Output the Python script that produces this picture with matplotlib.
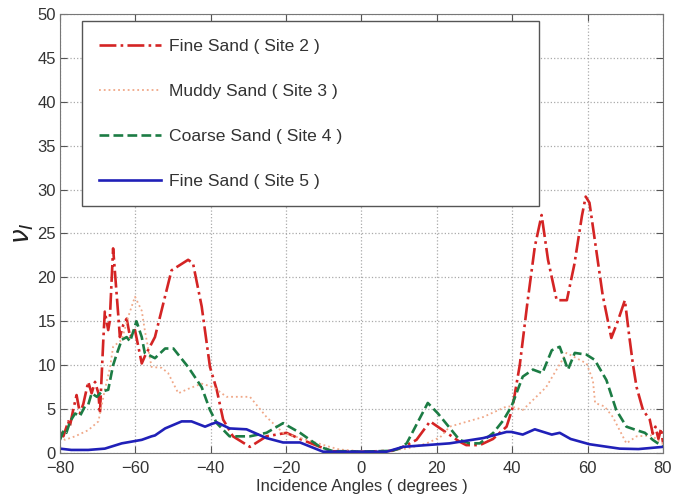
import matplotlib
matplotlib.use("Agg")
from matplotlib import pyplot as plt

plt.rcParams['font.family'] = ['Liberation Sans', 'DejaVu Sans']

# Fine Sand (Site 2)
site2_x = [-80, -79.1, -77.8, -77.4, -76.5, -75.6, -74.7, -73.8, -72.5, -71.6,
           -70.7, -69.8, -69.4, -68.5, -68.1, -67.2, -66.8, -65.9, -64.5, -64.1,
           -63.2, -62.3, -61.4, -60.1, -58.3, -57.5, -54.8, -50.4, -46, -44.7,
           -42.4, -40.2, -38.4, -36.7, -34.1, -29.6, -25.2, -19.9, -16.3, -11,
           -7.5, -4, 0, 4, 8, 10, 12, 14.6, 18.2, 20.9, 26, 27.8, 31.4, 34.9,
           38.5, 40, 42, 44, 46, 47.8, 49.5, 51.8, 54.5, 56.5, 58.5, 59.5, 60.5,
           62, 64, 66.3, 68, 69.9, 71, 72, 73, 74.7, 76.5, 77.3, 78, 78.8, 79.5, 80]
site2_y = [2.4, 1.9, 3.6, 3.0, 4.9, 6.6, 4.5, 5.6, 8.1, 6.8,
           8.1, 6.8, 4.5, 12.9, 16.1, 14.0, 15.0, 23.3, 15.5, 13.2,
           14.6, 15.3, 13.2, 14.0, 10.2, 11.0, 13.2, 20.8, 22.0, 21.6,
           16.7, 9.8, 7.2, 3.8, 1.9, 0.7, 1.9, 2.3, 1.6, 0.7,
           0.2, 0.2, 0.15, 0.2, 0.25, 0.5, 0.9, 1.5, 3.6, 2.8, 1.3, 0.9, 0.9, 1.6,
           3.0, 5.0, 10.0, 17.0, 23.5, 27.1, 22.0, 17.4, 17.4, 21.5, 27.0, 29.2, 28.5,
           24.0, 18.0, 13.1, 15.0, 17.4, 13.5, 10.2, 7.5, 4.9, 3.8, 2.2, 3.0, 1.6, 2.8, 1.2]

# Muddy Sand (Site 3)
site3_x = [-80, -78.7, -76, -72.5, -69.8, -68.1, -66.7, -65.9, -63.6, -61.9,
           -60.1, -58.3, -57.5, -55.7, -53, -51.3, -48.6, -46, -42.4, -39.3,
           -35.8, -29.6, -25.2, -20.8, -14.6, -8.4, -5.8, 0, 6, 12, 17.3, 20.9,
           23.4, 32.3, 38.5, 39.8, 42.8, 49, 54.4, 59.7, 61.4, 62, 64.5, 66.7,
           70.3, 73, 77, 80]
site3_y = [1.9, 1.5, 1.9, 2.6, 3.6, 7.2, 9.8, 12.1, 12.9, 15.5,
           17.8, 16.2, 14.0, 9.8, 9.7, 9.1, 6.8, 7.3, 7.9, 7.5,
           6.4, 6.4, 4.1, 2.3, 1.5, 0.7, 0.4, 0.2, 0.2, 0.5, 1.1, 1.8,
           3.0, 4.1, 5.3, 5.3, 4.9, 7.5, 11.4, 10.2, 8.3, 5.7, 5.3, 4.1,
           1.1, 1.9, 2.0, 1.0]

# Coarse Sand (Site 4)
site4_x = [-80, -79, -78.3, -77.3, -76, -74.7, -73.4, -72.5, -71.6, -70.2,
           -68.9, -67.2, -65.9, -65, -63.6, -62.3, -61.4, -59.7, -58.3, -57.5,
           -54.8, -52.1, -49.9, -46, -42.4, -40.2, -38.4, -35, -29.6, -25.2,
           -20.8, -16.3, -11, -7.5, -4, 0, 4, 8, 10, 12, 17.6, 20.3, 26, 28.7,
           31.4, 35, 37.6, 39.8, 42.8, 45.5, 48, 50.5, 52.6, 54.8, 56.6, 59.7,
           61.9, 65, 67.6, 70.3, 73, 75.2, 77.3, 80]
site4_y = [1.5, 2.6, 2.3, 3.6, 4.5, 4.2, 5.3, 5.5, 6.8, 6.4,
           7.0, 7.2, 10.0, 11.2, 12.9, 13.2, 12.7, 15.0, 13.2, 11.4,
           10.8, 11.9, 11.9, 9.8, 7.5, 4.9, 3.4, 1.9, 1.9, 2.3,
           3.4, 2.3, 0.7, 0.2, 0.2, 0.15, 0.2, 0.25, 0.5, 1.1, 5.7, 4.5, 1.5, 1.1,
           1.1, 2.3, 3.7, 5.3, 8.7, 9.5, 9.1, 11.7, 12.1, 9.5, 11.4, 11.2,
           10.6, 8.3, 4.9, 3.0, 2.6, 2.3, 1.5, 0.7]

# Fine Sand (Site 5)
site5_x = [-80, -77, -72.5, -68.1, -63.6, -58.3, -55.7, -54.8, -52.1, -47.7,
           -45.1, -41.5, -39.8, -38.4, -35, -30.5, -25.2, -20.8, -16.3, -10.2,
           -5, 0, 5, 6.7, 11, 23.4, 32.3, 38.5, 39.8, 42.8, 46, 50.5, 52.6,
           55.5, 60.5, 68.5, 73.5, 80]
site5_y = [0.5, 0.35, 0.35, 0.5, 1.1, 1.5, 1.9, 2.0, 2.8, 3.6,
           3.6, 3.0, 3.3, 3.5, 2.8, 2.7, 1.7, 1.2, 1.2, 0.15,
           0.15, 0.15, 0.15, 0.15, 0.7, 1.1, 1.7, 2.4, 2.4, 2.1, 2.7, 2.1, 2.3,
           1.6, 1.0, 0.5, 0.45, 0.7]

labels = ['Fine Sand ( Site 2 )', 'Muddy Sand ( Site 3 )',
          'Coarse Sand ( Site 4 )', 'Fine Sand ( Site 5 )']

fig = plt.figure(figsize=(6.87, 4.97), dpi=100)
ax = fig.add_axes([0.0873, 0.0885, 0.8777, 0.8835])

ax.plot(site2_x, site2_y, linestyle='-.', color='#d42424', lw=1.9, label=labels[0])
ax.plot(site3_x, site3_y, linestyle=':', color='#f0a888', lw=1.3, label=labels[1])
ax.plot(site4_x, site4_y, linestyle='--', color='#1c7c44', lw=1.9, label=labels[2])
ax.plot(site5_x, site5_y, linestyle='-', color='#2020b8', lw=1.9, label=labels[3])

ax.set_xlim(-80, 80)
ax.set_ylim(0, 50)
ax.set_xticks(range(-80, 81, 20))
ax.set_yticks(range(0, 51, 5))
ax.set_xticklabels(['\u221280', '\u221260', '\u221240', '\u221220', '0', '20', '40', '60', '80'])
ax.grid(True, linestyle=':', color='#aaaaaa', lw=0.9)
ax.tick_params(direction='in', top=True, right=True, labelsize=12,
               colors='#555555', labelcolor='#333333', length=5)
ax.tick_params(axis='y', pad=3)
ax.tick_params(axis='x', pad=6)
for s in ax.spines.values():
    s.set_color('#777777')

ax.set_xlabel('Incidence Angles ( degrees )', fontsize=12, color='#333333', labelpad=2)
ax.set_ylabel(r'$\nu_I$', fontsize=19, color='#222222', labelpad=1)

leg = ax.legend(loc='upper left', bbox_to_anchor=(0.0365, 0.567, 0.7575, 0.417),
                mode='expand', fontsize=12.6, handlelength=3.5, handletextpad=0.45,
                labelspacing=1.7, borderpad=1.0, borderaxespad=0, fancybox=False,
                framealpha=1, edgecolor='#555555')
leg.get_frame().set_linewidth(1.0)
for t in leg.get_texts():
    t.set_color('#333333')

fig.savefig('out.png', dpi=100)
